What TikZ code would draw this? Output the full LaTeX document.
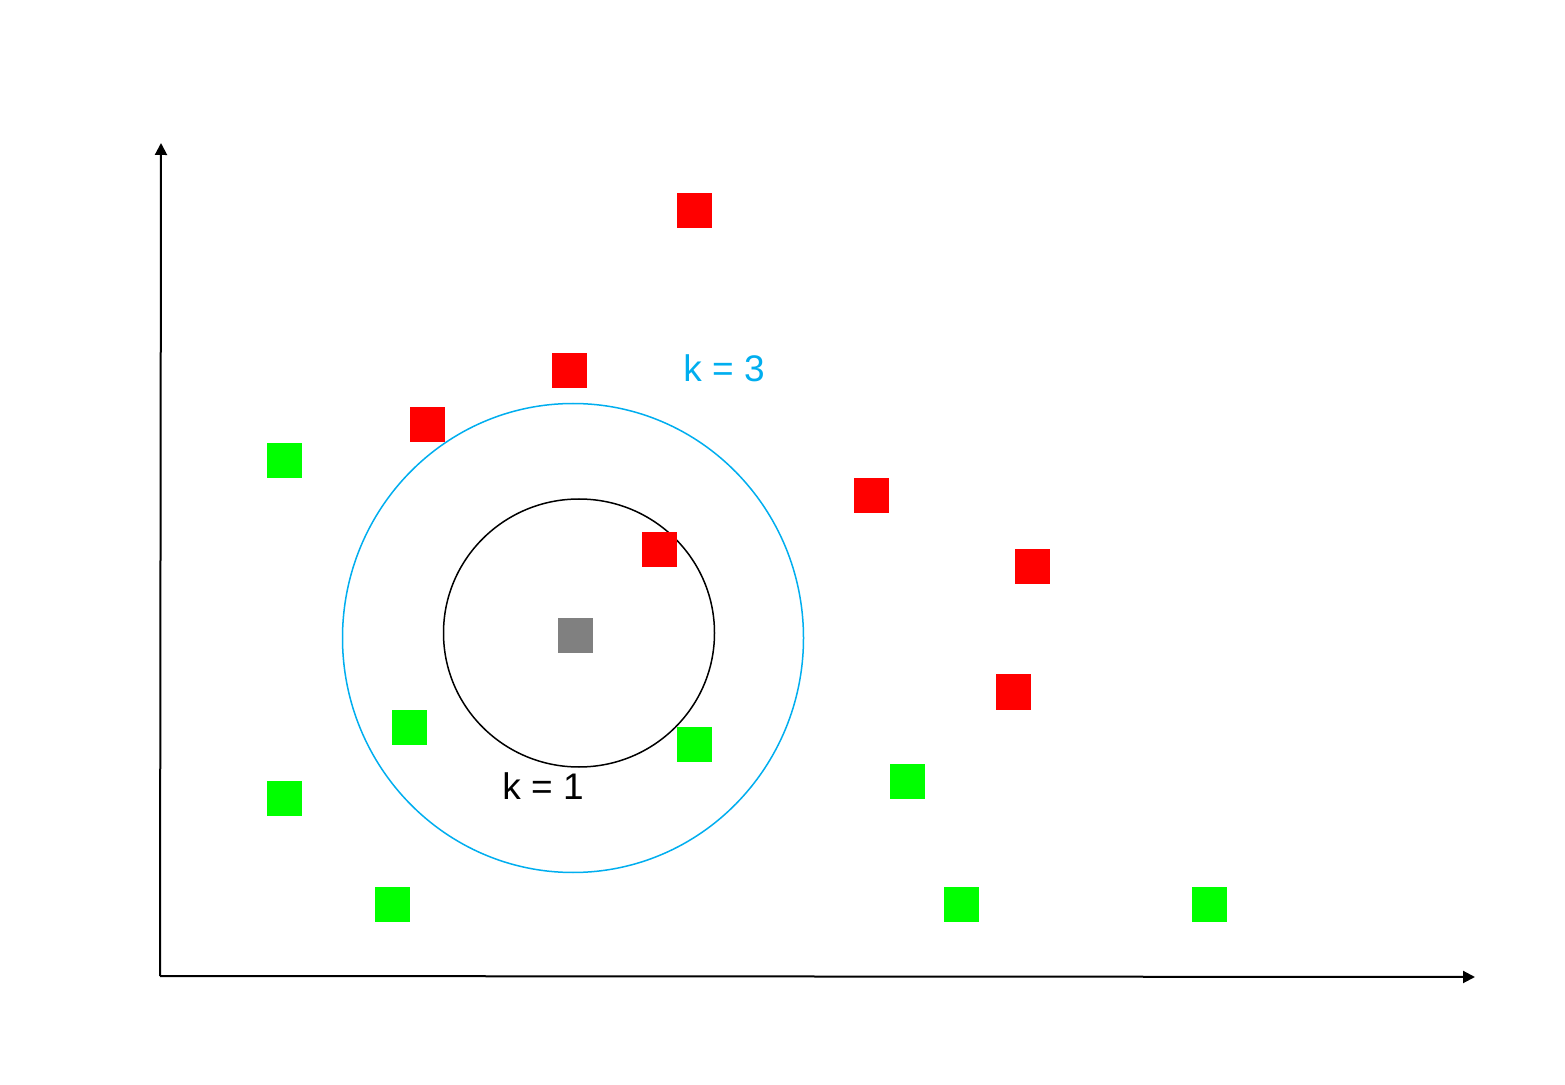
\documentclass[tikz,border=0pt]{standalone}
\usepackage{fontspec}
\setmainfont{Liberation Sans}
\usetikzlibrary{arrows.meta, shapes.geometric}

\definecolor{kblue}{RGB}{0,174,239}
\definecolor{kred}{RGB}{255,0,0}
\definecolor{kgreen}{RGB}{0,255,0}
\definecolor{kgray}{RGB}{128,128,128}

\tikzstyle{myarrow}=[-{Triangle[width=6pt,length=6pt]}, line width=1pt]
\tikzstyle{redpt}=[rectangle, fill=kred, minimum size=17.5pt, inner sep=0pt]
\tikzstyle{greenpt}=[rectangle, fill=kgreen, minimum size=17.5pt, inner sep=0pt]
\tikzstyle{query}=[rectangle, fill=kgray, minimum size=17.5pt, inner sep=0pt]
\tikzstyle{klabel}=[font=\fontsize{18.5}{22}\selectfont, inner sep=0pt]

\begin{document}
\begin{tikzpicture}[x=0.5pt, y=-0.5pt]
	\useasboundingbox (0,0) rectangle (1565,1085);
	\fill[white] (0,0) rectangle (1565,1085);

	% axes
	\coordinate (origin) at (160, 976);
	\coordinate (ytop) at (161, 143);
	\coordinate (xend) at (1475, 977);
	\draw[myarrow] (origin) -- (ytop);
	\draw[myarrow] (origin) -- (xend);

	% neighbourhoods
	\node (k3circle) at (573, 638) [ellipse, draw=kblue, line width=0.75pt, minimum width=230.5pt, minimum height=234.5pt, inner sep=0pt] {};
	\node (k1circle) at (579, 633) [ellipse, draw=black, line width=0.75pt, minimum width=135.5pt, minimum height=134pt, inner sep=0pt] {};

	% red class
	\node (red1) at (694, 211) [redpt] {};
	\node (red2) at (569, 371) [redpt] {};
	\node (red3) at (427, 425) [redpt] {};
	\node (red4) at (871, 496) [redpt] {};
	\node (red5) at (659, 550) [redpt] {};
	\node (red6) at (1032, 567) [redpt] {};
	\node (red7) at (1013, 692) [redpt] {};

	% green class
	\node (green1) at (284, 461) [greenpt] {};
	\node (green2) at (409, 727) [greenpt] {};
	\node (green3) at (694, 744) [greenpt] {};
	\node (green4) at (284, 798) [greenpt] {};
	\node (green5) at (907, 781) [greenpt] {};
	\node (green6) at (392, 904) [greenpt] {};
	\node (green7) at (961, 904) [greenpt] {};
	\node (green8) at (1209, 904) [greenpt] {};

	% unknown point
	\node (unknown) at (575, 636) [query] {};

	\node (k3label) at (724, 368) [klabel, text=kblue] {k = 3};
	\node (k1label) at (543, 786) [klabel, text=black] {k = 1};
\end{tikzpicture}
\end{document}
